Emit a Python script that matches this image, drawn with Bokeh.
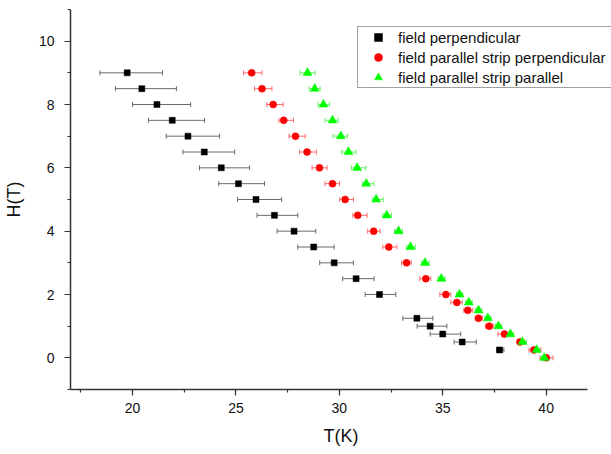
from bokeh.plotting import figure
from bokeh.models import (ColumnDataSource, Whisker, TeeHead, Legend, LegendItem,
                          Range1d, SingleIntervalTicker)
from bokeh.embed import file_html
from bokeh.resources import INLINE

# --- field perpendicular ---
H_perp = [9, 8.5, 8, 7.5, 7, 6.5, 6, 5.5, 5, 4.5, 4, 3.5, 3, 2.5, 2,
          1.25, 1, 0.75, 0.5, 0.25]
T_perp = [19.74, 20.45, 21.18, 21.92, 22.68, 23.47, 24.29, 25.12, 25.97, 26.86,
          27.81, 28.76, 29.75, 30.81, 31.94, 33.75, 34.39, 35.0, 35.94, 37.75]
dT_perp_minus = [1.32, 1.28, 1.18, 1.15, 1.05, 1.03, 1.05, 0.95, 0.89, 0.84,
                 0.82, 0.77, 0.70, 0.65, 0.69, 0.68, 0.63, 0.61, 0.39, 0.15]
dT_perp_plus = [1.71, 1.67, 1.63, 1.56, 1.53, 1.47, 1.37, 1.26, 1.24, 1.13,
                1.05, 0.99, 0.93, 0.87, 0.79, 0.77, 0.81, 0.87, 0.68, 0.21]

# --- field parallel, strip perpendicular ---
H_strip_perp = [9, 8.5, 8, 7.5, 7, 6.5, 6, 5.5, 5, 4.5, 4, 3.5, 3, 2.5, 2,
                1.75, 1.5, 1.25, 1, 0.75, 0.5, 0.25, 0]
T_strip_perp = [25.76, 26.26, 26.80, 27.31, 27.88, 28.44, 29.04, 29.67, 30.28,
                30.89, 31.66, 32.39, 33.25, 34.18, 35.15, 35.68, 36.21, 36.73,
                37.25, 37.98, 38.73, 39.41, 40.01]
dT_strip_perp_minus = [0.39, 0.36, 0.31, 0.23, 0.31, 0.36, 0.36, 0.36, 0.26, 0.24,
                       0.29, 0.29, 0.24, 0.29, 0.29, 0.29, 0.19, 0.16, 0.18, 0.31,
                       0.11, 0.24, 0.31]
dT_strip_perp_plus = [0.50, 0.48, 0.48, 0.47, 0.47, 0.45, 0.37, 0.34, 0.40, 0.45,
                      0.31, 0.39, 0.23, 0.24, 0.24, 0.26, 0.24, 0.19, 0.19, 0.26,
                      0.23, 0.34, 0.32]

# --- field parallel, strip parallel ---
H_strip_par = [9, 8.5, 8, 7.5, 7, 6.5, 6, 5.5, 5, 4.5, 4, 3.5, 3, 2.5, 2,
               1.75, 1.5, 1.25, 1, 0.75, 0.5, 0.25, 0]
T_strip_par = [28.46, 28.81, 29.23, 29.67, 30.07, 30.44, 30.86, 31.30, 31.78,
               32.29, 32.86, 33.44, 34.14, 34.93, 35.81, 36.26, 36.73, 37.18,
               37.69, 38.27, 38.85, 39.54, 39.91]
dT_strip_par_minus = [0.36, 0.27, 0.26, 0.36, 0.37, 0.32, 0.27, 0.18, 0.16, 0.18,
                      0.19, 0.18, 0.16, 0.15, 0.15, 0.15, 0.15, 0.15, 0.15, 0.15,
                      0.18, 0.15, 0.15]
dT_strip_par_plus = [0.37, 0.26, 0.29, 0.27, 0.32, 0.36, 0.42, 0.37, 0.34, 0.23,
                     0.19, 0.23, 0.21, 0.18, 0.16, 0.16, 0.16, 0.16, 0.16, 0.16,
                     0.20, 0.15, 0.15]

LABELS = ["field perpendicular",
          "field parallel strip perpendicular",
          "field parallel strip parallel"]

# axis extents (the x axis stops at 42 K; the frame runs on to the edge
# so the legend box is not clipped)
T_MIN, T_MAX, T_VIEW_MAX = 17, 42, 43.16
H_MIN, H_MAX = -1, 11

FONT = "Liberation Sans"


def make_source(T, H, em, ep):
    return ColumnDataSource(dict(
        T=T, H=H,
        lo=[t - m for t, m in zip(T, em)],
        hi=[t + q for t, q in zip(T, ep)],
    ))


p = figure(width=611, height=454, output_backend="svg", toolbar_location=None,
           x_range=Range1d(T_MIN, T_VIEW_MAX), y_range=Range1d(H_MIN, H_MAX),
           min_border_left=70, min_border_right=0,
           min_border_top=9, min_border_bottom=65,
           x_axis_label="T(K)", y_axis_label="H(T)")
p.outline_line_color = None
p.grid.visible = False
p.background_fill_color = "white"
p.border_fill_color = "white"

p.xaxis.ticker = SingleIntervalTicker(interval=5, num_minor_ticks=2)
p.yaxis.ticker = SingleIntervalTicker(interval=2, num_minor_ticks=2)
p.xaxis.bounds = (T_MIN, T_MAX)
for ax in (p.xaxis[0], p.yaxis[0]):
    ax.axis_line_color = "#333333"
    ax.axis_line_width = 1.5
    ax.major_tick_line_color = "#333333"
    ax.minor_tick_line_color = "#333333"
    ax.major_tick_line_width = 1.2
    ax.minor_tick_line_width = 1.2
    ax.major_tick_in = 0
    ax.major_tick_out = 6
    ax.minor_tick_in = 0
    ax.minor_tick_out = 3
    ax.major_label_text_font = FONT
    ax.major_label_text_font_size = "14px"
    ax.major_label_text_color = "#111111"
    ax.axis_label_text_font = FONT
    ax.axis_label_text_font_size = "18px"
    ax.axis_label_text_font_style = "normal"
    ax.axis_label_text_color = "#111111"
p.xaxis.major_label_standoff = 7
p.xaxis.axis_label_standoff = 10
p.yaxis.major_label_standoff = 10
p.yaxis.axis_label_standoff = 12

series = [
    (T_perp, H_perp, dT_perp_minus, dT_perp_plus, "square", 6, "black", "#6a6a6a"),
    (T_strip_perp, H_strip_perp, dT_strip_perp_minus, dT_strip_perp_plus,
     "circle", 7, "#ff0000", "#ff6a6a"),
    (T_strip_par, H_strip_par, dT_strip_par_minus, dT_strip_par_plus,
     "triangle", 9, "#00ff00", "#66ee66"),
]

items = []
for (T, H, em, ep, marker, size, color, bar_color), label in zip(series, LABELS):
    src = make_source(T, H, em, ep)
    w = Whisker(source=src, base="H", lower="lo", upper="hi", dimension="width",
                line_color=bar_color, line_width=1,
                lower_head=TeeHead(size=5, line_color=bar_color, line_width=1),
                upper_head=TeeHead(size=5, line_color=bar_color, line_width=1))
    p.add_layout(w)
    r = p.scatter("T", "H", source=src, marker=marker, size=size,
                  fill_color=color, line_color=color, line_width=0.5)
    items.append(LegendItem(label=label, renderers=[r]))

# legend box runs off the right edge of the canvas
legend = Legend(items=items, location=(287, 301),
                padding=0, spacing=0, margin=0,
                glyph_width=40, glyph_height=20, label_height=20,
                label_width=220, label_standoff=0,
                label_text_font=FONT, label_text_font_size="15px",
                label_text_color="#111111",
                border_line_color="#444444", border_line_width=1.5,
                background_fill_color="white", background_fill_alpha=1.0)
p.add_layout(legend)

open("out.html", "w").write(file_html(p, INLINE))
